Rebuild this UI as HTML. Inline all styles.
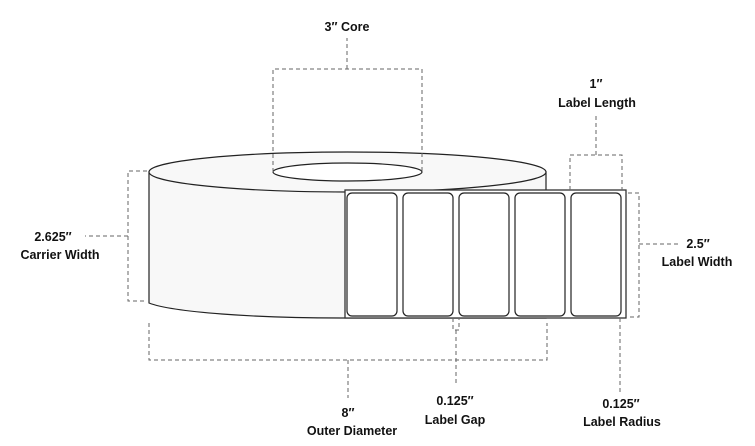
<!DOCTYPE html>
<html><head><style>
html,body{margin:0;padding:0;background:#fff;}
svg{display:block;}
text{font-family:"Liberation Sans",sans-serif;font-weight:bold;font-size:12.5px;fill:#111;text-anchor:middle;}
.d{stroke:#666;stroke-width:1;fill:none;stroke-dasharray:4 3;}
</style></head><body>
<svg width="755" height="446" viewBox="0 0 755 446">
<path d="M149 172 L149 303 A198.5 20 0 0 0 347 318 L546 318 L546 172 Z" fill="#f8f8f8" stroke="#222" stroke-width="1.2"/>
<ellipse cx="347.5" cy="172" rx="198.5" ry="20" fill="#f8f8f8" stroke="#222" stroke-width="1.2"/>
<ellipse cx="347.5" cy="172" rx="74.5" ry="9" fill="#fff" stroke="#222" stroke-width="1.2"/>
<rect x="345" y="190" width="281" height="128" fill="#fff" stroke="#333" stroke-width="1.3"/>
<g fill="#fff" stroke="#222" stroke-width="1.2">
<rect x="347" y="193" width="50" height="123" rx="5"/>
<rect x="403" y="193" width="50" height="123" rx="5"/>
<rect x="459" y="193" width="50" height="123" rx="5"/>
<rect x="515" y="193" width="50" height="123" rx="5"/>
<rect x="571" y="193" width="50" height="123" rx="5"/>
</g>
<path class="d" d="M273 172 V69 H422 V172 M347 69 V38"/>
<path class="d" d="M570 190 V155 H622 V190 M596 155 V113"/>
<path class="d" d="M147 171 H128 V301 H147 M128 236 H85"/>
<path class="d" d="M628 193 H639 V317 H628 M639 244 H680"/>
<path class="d" d="M149 323 V360 H547 V323 M348 360 V398"/>
<path class="d" d="M453 318 V330 H459 V318 M456 330 V385"/>
<path class="d" d="M620 318 V395"/>
<text x="347" y="31">3″ Core</text>
<text x="596" y="88">1″</text>
<text x="597" y="107">Label Length</text>
<text x="53" y="241">2.625″</text>
<text x="60" y="259">Carrier Width</text>
<text x="698" y="248">2.5″</text>
<text x="697" y="266">Label Width</text>
<text x="348" y="417">8″</text>
<text x="352" y="435">Outer Diameter</text>
<text x="455" y="405">0.125″</text>
<text x="455" y="424">Label Gap</text>
<text x="621" y="408">0.125″</text>
<text x="622" y="426">Label Radius</text>
</svg>
</body></html>
